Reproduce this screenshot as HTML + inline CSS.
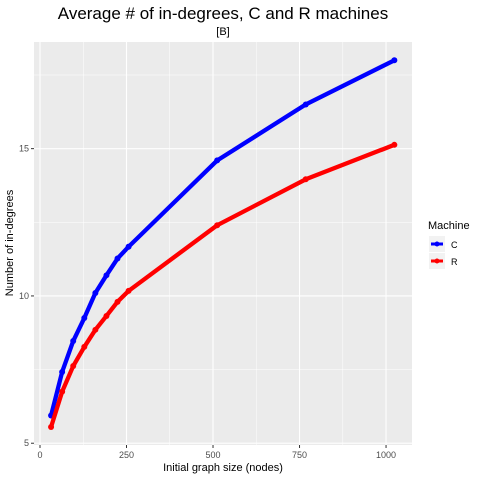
<!DOCTYPE html>
<html><head><meta charset="utf-8"><style>
body{margin:0;background:#fff;font-family:"Liberation Sans",sans-serif}
svg text{font-family:"Liberation Sans",sans-serif}
</style></head><body>
<svg id="chart" width="480" height="480" xmlns="http://www.w3.org/2000/svg">
<text x="223" y="19" text-anchor="middle" font-size="17" fill="#000">Average # of in-degrees, C and R machines</text>
<text x="223" y="35" text-anchor="middle" font-size="11" fill="#000">[B]</text>
<rect x="34" y="42" width="378" height="403" fill="#ebebeb"/>
<g id="grid"></g><g id="axes"></g><g id="series"></g>
<text x="13" y="243" transform="rotate(-90 13 243)" text-anchor="middle" font-size="11" fill="#000">Number of in-degrees</text>
<text x="223" y="471" text-anchor="middle" font-size="11" fill="#000">Initial graph size (nodes)</text>
<g>
<text x="428" y="229" font-size="11" fill="#000">Machine</text>
<g><rect x="429" y="236" width="16" height="16" fill="#f2f2f2"/><line x1="431" y1="244" x2="443" y2="244" stroke="#0000ff" stroke-width="3"/><circle cx="437" cy="244" r="2.5" fill="#0000ff"/><text x="451" y="248" font-size="9" fill="#000">C</text></g>
<g><rect x="429" y="253" width="16" height="16" fill="#f2f2f2"/><line x1="431" y1="261" x2="443" y2="261" stroke="#ff0000" stroke-width="3"/><circle cx="437" cy="261" r="2.5" fill="#ff0000"/><text x="451" y="265" font-size="9" fill="#000">R</text></g>
</g>
</svg>
<script>
const sizes=[32,64,96,128,160,192,224,256,512,768,1024];
const cValues=[5.94,7.42,8.47,9.25,10.1,10.7,11.27,11.67,14.6,16.5,18.0];
const rValues=[5.55,6.75,7.62,8.27,8.85,9.32,9.8,10.17,12.4,13.96,15.13];
const xTicks=[0,250,500,750,1000];
const yTicks=[5,10,15];
const xMinor=[125,375,625,875];
const yMinor=[7.5,12.5,17.5];
const NS="http://www.w3.org/2000/svg";
const X0=34,X1=412,Y0=445,Y1=42,xd=[-17.3,1075],yd=[4.94,18.62];
const sx=v=>X0+(v-xd[0])/(xd[1]-xd[0])*(X1-X0);
const sy=v=>Y0-(v-yd[0])/(yd[1]-yd[0])*(Y0-Y1);
function mk(t,a,p){const e=document.createElementNS(NS,t);for(const k in a)e.setAttribute(k,a[k]);p.appendChild(e);return e;}
const grid=document.getElementById('grid'),axes=document.getElementById('axes'),ser=document.getElementById('series');
xMinor.forEach(v=>{const l=mk('line',{x1:sx(v),x2:sx(v),y1:Y1,y2:Y0,stroke:'#fff','stroke-width':0.5},grid);

});
yMinor.forEach(v=>{const l=mk('line',{x1:X0,x2:X1,y1:sy(v),y2:sy(v),stroke:'#fff','stroke-width':0.5},grid);

});
xTicks.forEach(v=>{const l=mk('line',{x1:sx(v),x2:sx(v),y1:Y1,y2:Y0,stroke:'#fff','stroke-width':1.1},grid);


mk('line',{x1:sx(v),x2:sx(v),y1:Y0,y2:Y0+3,stroke:'#333'},axes);
const t=mk('text',{x:sx(v),y:Y0+13,'text-anchor':'middle','font-size':9,fill:'#4d4d4d'},axes);t.textContent=v;

});
yTicks.forEach(v=>{const l=mk('line',{x1:X0,x2:X1,y1:sy(v),y2:sy(v),stroke:'#fff','stroke-width':1.1},grid);


mk('line',{x1:X0-3,x2:X0,y1:sy(v),y2:sy(v),stroke:'#333'},axes);
const t=mk('text',{x:X0-5,y:sy(v)+3,'text-anchor':'end','font-size':9,fill:'#4d4d4d'},axes);t.textContent=v;

});
function draw(vals,color,name){
const g=mk('g',{},ser);


mk('polyline',{points:sizes.map((s,i)=>sx(s)+','+sy(vals[i])).join(' '),fill:'none',stroke:color,'stroke-width':4.3,'stroke-linejoin':'round'},g);
sizes.forEach((s,i)=>{const c=mk('circle',{cx:sx(s),cy:sy(vals[i]),r:3,fill:color},g);

});}
draw(cValues,'#0000ff','series-c');
draw(rValues,'#ff0000','series-r');
</script>
</body></html>
